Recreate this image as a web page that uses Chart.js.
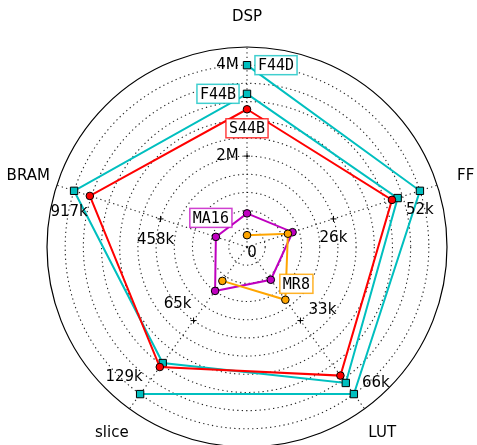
<!DOCTYPE html>
<html>
<head>
<meta charset="utf-8">
<script src="https://cdn.jsdelivr.net/npm/chart.js@4"></script>
<style>
  html, body { margin: 0; padding: 0; background: #fff; overflow: hidden; }
  #wrap { width: 494px; height: 494px; }
</style>
</head>
<body>
<div id="wrap"><canvas id="c" width="494" height="494"></canvas></div>
<script>
// Resource axes, clockwise from the top
const axes = ['DSP', 'FF', 'LUT', 'slice', 'BRAM'];

// Resource usage per design (null = not reported)
const F44D = [4.0e6, 52.0e3, 66.0e3, 129.3e3, null];
const F44B = [3.37e6, 45.3e3, 61.0e3, 102.0e3, 916.6e3];
const S44B = [3.03e6, 43.6e3, 57.7e3, 105.5e3, 833.0e3];
const MA16 = [0.74e6, 13.7e3, 14.7e3, 38.6e3, 165.0e3];
const MR8  = [0.26e6, 12.3e3, 23.7e3, 29.8e3, null];

// Tick labels per axis, at half and full scale
const tickHalfLabels = ['2M', '26k', '33k', '65k', '458k'];
const tickFullLabels = ['4M', '52k', '66k', '129k', '917k'];

const seriesNames = ['F44D', 'F44B', 'S44B', 'MA16', 'MR8'];
const seriesValues = [F44D, F44B, S44B, MA16, MR8];

// Each axis is scaled by its own maximum over all designs
const axisMax = axes.map((_, i) =>
  Math.max(...seriesValues.map(s => (s[i] == null ? 0 : s[i]))));
const norm = s => s.map((v, i) => (v == null ? null : v / axisMax[i]));

const styles = {
  F44D: { color: '#00bfbf', box: 'rgba(0,191,191,0.75)', point: 'rect', r: 5.2 },
  F44B: { color: '#00bfbf', box: 'rgba(0,191,191,0.75)', point: 'rect', r: 5.2 },
  S44B: { color: '#ff0000', box: 'rgba(255,0,0,0.75)', point: 'circle', r: 3.8 },
  MA16: { color: '#bf00bf', box: 'rgba(191,0,191,0.75)', point: 'circle', r: 3.8 },
  MR8:  { color: '#ffa500', box: 'rgba(255,165,0,0.85)', point: 'circle', r: 3.8 }
};

const datasets = seriesNames.map((name, k) => ({
  label: name,
  data: norm(seriesValues[k]),
  borderColor: styles[name].color,
  borderWidth: 2,
  fill: false,
  spanGaps: false,
  tension: 0,
  pointStyle: styles[name].point,
  pointRadius: styles[name].r,
  pointHoverRadius: styles[name].r,
  pointBackgroundColor: styles[name].color,
  pointBorderColor: '#000',
  pointBorderWidth: 1,
  order: seriesNames.length - k
}));

// Where each design's name tag sits: axis index and offset from that point
const tagPlacement = {
  F44D: { axis: 0, dx: 29, dy: 0 },
  F44B: { axis: 0, dx: -29, dy: 0 },
  S44B: { axis: 0, dx: 0, dy: 19 },
  MA16: { axis: 4, dx: -5, dy: -19 },
  MR8:  { axis: 2, dx: 11, dy: -16 }
};

// Offsets of tick labels from their tick point, per axis
const tickLabelOffset = [[-19.5, 0], [0, 19], [22, -10.5], [-16, -16.5], [-5, 21]];

const radarDecor = {
  id: 'radarDecor',
  beforeDatasetsDraw(chart) {
    const s = chart.scales.r;
    const ctx = chart.ctx;
    ctx.save();
    ctx.strokeStyle = '#000';
    ctx.lineWidth = 1;
    axes.forEach((_, i) => {
      [0.5, 1.0].forEach(v => {
        const p = s.getPointPositionForValue(i, v);
        ctx.beginPath();
        ctx.moveTo(p.x - 3, p.y); ctx.lineTo(p.x + 3, p.y);
        ctx.moveTo(p.x, p.y - 3); ctx.lineTo(p.x, p.y + 3);
        ctx.stroke();
      });
    });
    ctx.restore();
  },
  afterDatasetsDraw(chart) {
    const s = chart.scales.r;
    const ctx = chart.ctx;
    ctx.save();
    ctx.fillStyle = '#000';
    ctx.textAlign = 'center';
    ctx.textBaseline = 'middle';
    ctx.font = '15px "DejaVu Sans"';

    // axis names
    axes.forEach((name, i) => {
      const p = s.getPointPosition(i, 230);
      ctx.fillText(name, p.x, p.y);
    });

    // per-axis tick labels
    axes.forEach((_, i) => {
      const [ox, oy] = tickLabelOffset[i];
      const h = s.getPointPositionForValue(i, 0.5);
      const f = s.getPointPositionForValue(i, 1.0);
      ctx.fillText(tickHalfLabels[i], h.x + ox, h.y + oy);
      ctx.fillText(tickFullLabels[i], f.x + ox, f.y + oy);
    });
    ctx.fillText('0', s.xCenter + 5, s.yCenter + 6);

    // design name tags
    ctx.font = '15px "DejaVu Sans Mono"';
    seriesNames.forEach((name, k) => {
      const t = tagPlacement[name];
      const v = norm(seriesValues[k])[t.axis];
      const p = s.getPointPositionForValue(t.axis, v);
      const cx = p.x + t.dx, cy = p.y + t.dy;
      const w = ctx.measureText(name).width + 6;
      const hgt = 19;
      ctx.fillStyle = '#fff';
      ctx.fillRect(cx - w / 2, cy - hgt / 2, w, hgt);
      ctx.strokeStyle = styles[name].box;
      ctx.lineWidth = 1.5;
      ctx.strokeRect(cx - w / 2, cy - hgt / 2, w, hgt);
      ctx.fillStyle = '#000';
      ctx.fillText(name, cx, cy + 1);
    });
    ctx.restore();
  }
};

new Chart(document.getElementById('c'), {
  type: 'radar',
  data: { labels: axes, datasets },
  options: {
    responsive: false,
    animation: false,
    devicePixelRatio: 1,
    layout: { padding: 47 },
    plugins: { legend: { display: false }, tooltip: { enabled: false } },
    scales: {
      r: {
        min: 0,
        max: 1.1,
        ticks: { display: false, stepSize: 0.1 },
        pointLabels: { display: false },
        grid: {
          circular: true,
          color: c => (c.tick && c.tick.value > 1.05 ? '#000' : 'rgba(0,0,0,0.85)'),
          lineWidth: c => (c.tick && c.tick.value > 1.05 ? 1.2 : 1.1)
        },
        border: {
          dash: c => (c.tick && c.tick.value > 1.05 ? [] : [1.3, 3.2])
        },
        angleLines: {
          color: 'rgba(0,0,0,0.85)',
          lineWidth: 1.1,
          borderDash: [1.3, 3.2]
        }
      }
    }
  },
  plugins: [radarDecor]
});
</script>
</body>
</html>
